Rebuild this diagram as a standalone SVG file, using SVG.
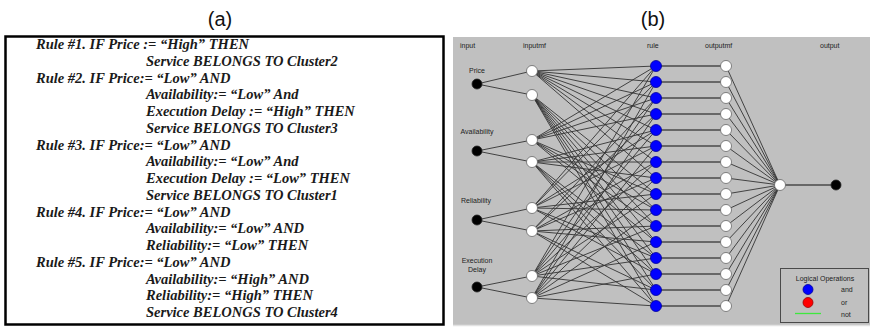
<svg xmlns="http://www.w3.org/2000/svg" width="870" height="328" viewBox="0 0 870 328">
<style>
.title{font-family:"Liberation Sans",Arial,sans-serif;font-size:20px;fill:#111;text-anchor:middle}
.rule{font-family:"Liberation Serif","Times New Roman",serif;font-size:14.5px;font-weight:bold;font-style:italic;fill:#1a1a1a}
.lab{font-family:"Liberation Sans",Arial,sans-serif;font-size:7px;fill:#222}
.labc{font-family:"Liberation Sans",Arial,sans-serif;font-size:7px;fill:#222;text-anchor:middle}
.w{stroke:#333;stroke-width:0.9;fill:none}
.h{stroke:#4a4a4a;stroke-width:1.3;fill:none}
.blk{fill:#000;stroke:#222;stroke-width:0.8}
.wht{fill:#fff;stroke:#666;stroke-width:0.8}
.blu{fill:#0000ff;stroke:#00009a;stroke-width:0.8}
</style>
<rect width="870" height="328" fill="#fff"/>
<text class="title" x="220" y="26">(a)</text>
<text class="title" x="653" y="26">(b)</text>

<g id="panel-a">
<rect x="5.5" y="36.5" width="438" height="288" fill="#fff" stroke="#000" stroke-width="2.5"/>
<text class="rule" x="36" y="49">Rule #1. IF Price := “High” THEN</text>
<text class="rule" x="146" y="65.75">Service BELONGS TO Cluster2</text>
<text class="rule" x="36" y="82.5">Rule #2. IF Price:= “Low” AND</text>
<text class="rule" x="146" y="99.25">Availability:= “Low” And</text>
<text class="rule" x="146" y="116">Execution Delay := “High” THEN</text>
<text class="rule" x="146" y="132.75">Service BELONGS TO Cluster3</text>
<text class="rule" x="36" y="149.5">Rule #3. IF Price:= “Low” AND</text>
<text class="rule" x="146" y="166.25">Availability:= “Low” And</text>
<text class="rule" x="146" y="183">Execution Delay := “Low” THEN</text>
<text class="rule" x="146" y="199.75">Service BELONGS TO Cluster1</text>
<text class="rule" x="36" y="216.5">Rule #4. IF Price:= “Low” AND</text>
<text class="rule" x="146" y="233.25">Availability:= “Low” AND</text>
<text class="rule" x="146" y="250">Reliability:= “Low” THEN</text>
<text class="rule" x="36" y="266.75">Rule #5. IF Price:= “Low” AND</text>
<text class="rule" x="146" y="283.5">Availability:= “High” AND</text>
<text class="rule" x="146" y="300.25">Reliability:= “High” THEN</text>
<text class="rule" x="146" y="317">Service BELONGS TO Cluster4</text>
</g>

<g id="panel-b-bg">
<rect x="453" y="37" width="417" height="288" fill="#c0c0c0"/>
<line x1="453" y1="325.5" x2="870" y2="325.5" stroke="#e2e2e2" stroke-width="1.5"/>
<text class="lab" x="460" y="48">input</text>
<text class="lab" x="523" y="48">inputmf</text>
<text class="lab" x="647" y="48">rule</text>
<text class="lab" x="705" y="48">outputmf</text>
<text class="lab" x="820" y="48">output</text>
</g>

<g id="connectors">
<path class="w" d="M477 84L532 71M477 84L532 95M477 151L532 140M477 151L532 162M477 220L532 208M477 220L532 231M477 287L532 276M477 287L532 298"/>
<path class="w" d="M532 71L656 66M532 71L656 82M532 71L656 98M532 71L656 114M532 71L656 130M532 71L656 146M532 71L656 162M532 71L656 178"/>
<path class="w" d="M532 95L656 194M532 95L656 210M532 95L656 226M532 95L656 242M532 95L656 258M532 95L656 274M532 95L656 290M532 95L656 306"/>
<path class="w" d="M532 140L656 66M532 140L656 82M532 140L656 98M532 140L656 114M532 140L656 194M532 140L656 210M532 140L656 226M532 140L656 242"/>
<path class="w" d="M532 162L656 130M532 162L656 146M532 162L656 162M532 162L656 178M532 162L656 258M532 162L656 274M532 162L656 290M532 162L656 306"/>
<path class="w" d="M532 208L656 66M532 208L656 82M532 208L656 130M532 208L656 146M532 208L656 194M532 208L656 210M532 208L656 258M532 208L656 274"/>
<path class="w" d="M532 231L656 98M532 231L656 114M532 231L656 162M532 231L656 178M532 231L656 226M532 231L656 242M532 231L656 290M532 231L656 306"/>
<path class="w" d="M532 276L656 66M532 276L656 98M532 276L656 130M532 276L656 162M532 276L656 194M532 276L656 226M532 276L656 258M532 276L656 290"/>
<path class="w" d="M532 298L656 82M532 298L656 114M532 298L656 146M532 298L656 178M532 298L656 210M532 298L656 242M532 298L656 274M532 298L656 306"/>
<path class="h" d="M656 66H726M656 82H726M656 98H726M656 114H726M656 130H726M656 146H726M656 162H726M656 178H726M656 194H726M656 210H726M656 226H726M656 242H726M656 258H726M656 274H726M656 290H726M656 306H726"/>
<path class="w" d="M726 66L780 185M726 82L780 185M726 98L780 185M726 114L780 185M726 130L780 185M726 146L780 185M726 162L780 185M726 178L780 185M726 194L780 185M726 210L780 185M726 226L780 185M726 242L780 185M726 258L780 185M726 274L780 185M726 290L780 185M726 306L780 185"/>
<path class="h" d="M780 185H836"/>
</g>

<g id="input-price"><text class="labc" x="477" y="73">Price</text><circle class="blk" cx="477" cy="84" r="5"/></g>
<g id="input-availability"><text class="labc" x="477" y="134">Availability</text><circle class="blk" cx="477" cy="151" r="5"/></g>
<g id="input-reliability"><text class="labc" x="476" y="203">Reliability</text><circle class="blk" cx="477" cy="220" r="5"/></g>
<g id="input-execution-delay"><text class="labc" x="477" y="263">Execution</text><text class="labc" x="477" y="272">Delay</text><circle class="blk" cx="477" cy="287" r="5"/></g>

<g id="inputmf">
<circle class="wht" cx="532" cy="71" r="5.5"/><circle class="wht" cx="532" cy="95" r="5.5"/>
<circle class="wht" cx="532" cy="140" r="5.5"/><circle class="wht" cx="532" cy="162" r="5.5"/>
<circle class="wht" cx="532" cy="208" r="5.5"/><circle class="wht" cx="532" cy="231" r="5.5"/>
<circle class="wht" cx="532" cy="276" r="5.5"/><circle class="wht" cx="532" cy="298" r="5.5"/>
</g>

<g id="rules">
<circle class="blu" cx="656" cy="66" r="5.5"/><circle class="blu" cx="656" cy="82" r="5.5"/><circle class="blu" cx="656" cy="98" r="5.5"/><circle class="blu" cx="656" cy="114" r="5.5"/>
<circle class="blu" cx="656" cy="130" r="5.5"/><circle class="blu" cx="656" cy="146" r="5.5"/><circle class="blu" cx="656" cy="162" r="5.5"/><circle class="blu" cx="656" cy="178" r="5.5"/>
<circle class="blu" cx="656" cy="194" r="5.5"/><circle class="blu" cx="656" cy="210" r="5.5"/><circle class="blu" cx="656" cy="226" r="5.5"/><circle class="blu" cx="656" cy="242" r="5.5"/>
<circle class="blu" cx="656" cy="258" r="5.5"/><circle class="blu" cx="656" cy="274" r="5.5"/><circle class="blu" cx="656" cy="290" r="5.5"/><circle class="blu" cx="656" cy="306" r="5.5"/>
</g>

<g id="outputmf">
<circle class="wht" cx="726" cy="66" r="5.5"/><circle class="wht" cx="726" cy="82" r="5.5"/><circle class="wht" cx="726" cy="98" r="5.5"/><circle class="wht" cx="726" cy="114" r="5.5"/>
<circle class="wht" cx="726" cy="130" r="5.5"/><circle class="wht" cx="726" cy="146" r="5.5"/><circle class="wht" cx="726" cy="162" r="5.5"/><circle class="wht" cx="726" cy="178" r="5.5"/>
<circle class="wht" cx="726" cy="194" r="5.5"/><circle class="wht" cx="726" cy="210" r="5.5"/><circle class="wht" cx="726" cy="226" r="5.5"/><circle class="wht" cx="726" cy="242" r="5.5"/>
<circle class="wht" cx="726" cy="258" r="5.5"/><circle class="wht" cx="726" cy="274" r="5.5"/><circle class="wht" cx="726" cy="290" r="5.5"/><circle class="wht" cx="726" cy="306" r="5.5"/>
</g>

<g id="aggregate"><circle class="wht" cx="780" cy="185" r="5.5"/></g>
<g id="output"><circle class="blk" cx="836" cy="185" r="5"/></g>

<g id="legend">
<rect x="780.5" y="268.5" width="88" height="54" fill="none" stroke="#4a4a4a" stroke-width="1"/>
<text class="labc" x="825" y="281">Logical Operations</text>
<circle class="blu" cx="808" cy="289.5" r="5"/>
<circle fill="#ff0000" stroke="#9a0000" stroke-width="0.8" cx="808" cy="302.5" r="5"/>
<line x1="795" y1="313.5" x2="821" y2="313.5" stroke="#3ee83e" stroke-width="1.3"/>
<text class="lab" x="841" y="292">and</text>
<text class="lab" x="841" y="305">or</text>
<text class="lab" x="841" y="317">not</text>
</g>
</svg>
